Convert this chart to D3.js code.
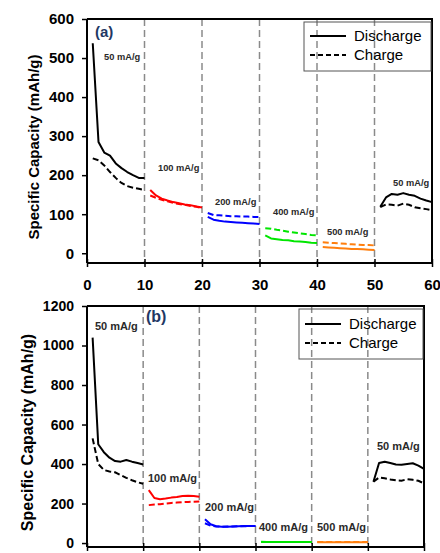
<!DOCTYPE html>
<html>
<head>
<meta charset="utf-8">
<script src="https://cdn.jsdelivr.net/npm/d3@7"></script>
<style>
  html, body { margin: 0; padding: 0; background: #fff; }
  svg { display: block; }
  text { font-family: "Liberation Sans", Arial, sans-serif; }
</style>
</head>
<body>
<svg id="chart" width="440" height="553"></svg>
<script>
// ---------- DATA ----------
const cycles = d3.range(1, 61);
const rates = ["50 mA/g", "100 mA/g", "200 mA/g", "400 mA/g", "500 mA/g", "50 mA/g"];
const segmentColors = ["#000000", "#ff0000", "#0000ff", "#00e600", "#ff7f0e", "#000000"];
const xTicks = [0, 10, 20, 30, 40, 50, 60];
const yTicksA = [0, 100, 200, 300, 400, 500, 600];
const yTicksB = [0, 200, 400, 600, 800, 1000, 1200];
const legendLabels = ["Discharge", "Charge"];

const dischargeA = [
  538, 285, 258, 250, 230, 218, 208, 200, 193, 193,
  162, 148, 140, 135, 131, 128, 125, 123, 120, 117,
  93, 86, 83, 81, 80, 79, 78, 77, 76, 75,
  46, 38, 36, 34, 33, 31, 30, 29, 27, 26,
  16, 15, 14, 13, 12, 11, 11, 10, 9, 8,
  119, 143, 152, 150, 154, 150, 147, 140, 135, 131
];
const chargeA = [
  243, 238, 225, 208, 193, 180, 172, 168, 165, 162,
  148, 142, 137, 133, 129, 126, 124, 121, 119, 116,
  103, 98, 97, 96, 95, 95, 94, 94, 93, 93,
  64, 63, 60, 58, 55, 53, 51, 49, 47, 46,
  28, 27, 26, 25, 24, 23, 22, 21, 21, 20,
  118, 125, 124, 122, 127, 124, 118, 115, 113, 110
];
const dischargeB = [
  1040, 500, 460, 432, 415, 412, 420, 412, 405, 398,
  268, 228, 222, 225, 230, 233, 238, 240, 238, 234,
  120, 95, 85, 82, 83, 84, 85, 86, 86, 86,
  6, 5, 5, 5, 5, 5, 5, 5, 5, 5,
  4, 4, 4, 4, 4, 4, 4, 4, 4, 4,
  310, 405, 412, 405, 398, 396, 400, 404, 392, 375
];
const chargeB = [
  530, 400, 370, 362, 358, 344, 330, 318, 308, 300,
  192, 195, 197, 200, 203, 205, 207, 208, 209, 210,
  100, 88, 84, 83, 84, 84, 85, 85, 86, 86,
  5, 5, 5, 5, 5, 5, 5, 5, 5, 5,
  5, 5, 5, 5, 5, 5, 5, 5, 5, 5,
  310, 332, 328, 322, 318, 316, 323, 320, 315, 302
];

// ---------- LAYOUT ----------
const svg = d3.select("#chart");
const FONT = '"Liberation Sans", Arial, sans-serif';

const panels = [
  {
    tag: "(a)", discharge: dischargeA, charge: chargeA, yTicks: yTicksA,
    left: 87, right: 432, top: 19, bottom: 263, yDomain: [-25, 600],
    tickFont: 15, titleFont: 15, titleX: 33, tagPos: [95, 37], tagFont: 15,
    rateFont: 9.3, showXLabels: true,
    ratePos: [[104, 60], [158, 171], [215, 205], [273, 215], [327, 235], [393, 186]],
    legend: { x: 304, y: 22, w: 127, h: 49, l1: 36, l2: 55 }
  },
  {
    tag: "(b)", discharge: dischargeB, charge: chargeB, yTicks: yTicksB,
    left: 87, right: 424, top: 306, bottom: 547, yDomain: [-20, 1200],
    tickFont: 14, titleFont: 16, titleX: 27, tagPos: [146, 322], tagFont: 16,
    rateFont: 11, showXLabels: false,
    ratePos: [[95, 330], [148, 482], [205, 511], [259, 531], [317, 531], [377, 450]],
    legend: { x: 299, y: 309, w: 124, h: 50, l1: 324, l2: 343 }
  }
];

panels.forEach(p => {
  const x = d3.scaleLinear().domain([0, 60]).range([p.left, p.right]);
  const y = d3.scaleLinear().domain(p.yDomain).range([p.bottom, p.top]);
  const g = svg.append("g");

  // vertical separators
  g.selectAll("line.sep").data([10, 20, 30, 40, 50]).join("line")
    .attr("x1", d => x(d)).attr("x2", d => x(d))
    .attr("y1", p.top).attr("y2", p.bottom)
    .attr("stroke", "#8a8a8a").attr("stroke-width", 1.5)
    .attr("stroke-dasharray", "7,4");

  // data segments
  const line = d3.line().x(d => x(d.c)).y(d => y(d.v));
  for (let s = 0; s < 6; s++) {
    const idx = d3.range(s * 10, s * 10 + 10);
    const dd = idx.map(i => ({ c: cycles[i], v: p.discharge[i] }));
    const cc = idx.map(i => ({ c: cycles[i], v: p.charge[i] }));
    g.append("path").attr("d", line(dd)).attr("fill", "none")
      .attr("stroke", segmentColors[s]).attr("stroke-width", 2)
      .attr("stroke-linejoin", "round");
    g.append("path").attr("d", line(cc)).attr("fill", "none")
      .attr("stroke", segmentColors[s]).attr("stroke-width", 2)
      .attr("stroke-dasharray", "6,3");
  }

  // frame top & right
  g.append("path")
    .attr("d", `M${p.left},${p.top}H${p.right}V${p.bottom}`)
    .attr("fill", "none").attr("stroke", "#000").attr("stroke-width", 2);

  // y axis
  const ya = g.append("g").attr("transform", `translate(${p.left},0)`)
    .call(d3.axisLeft(y).tickValues(p.yTicks).tickFormat(d3.format("d"))
      .tickSize(5).tickPadding(8));
  ya.select(".domain").attr("stroke-width", 2)
    .attr("d", `M0,${p.top}V${p.bottom}`);
  ya.selectAll(".tick line").attr("stroke-width", 1.5);
  ya.selectAll("text").attr("font-family", FONT).attr("font-size", p.tickFont)
    .attr("font-weight", "bold").attr("fill", "#000");

  // x axis
  const xa = g.append("g").attr("transform", `translate(0,${p.bottom})`)
    .call(d3.axisBottom(x).tickValues(xTicks).tickFormat(d3.format("d"))
      .tickSize(4).tickPadding(12));
  xa.select(".domain").attr("stroke-width", 2)
    .attr("d", `M${p.left},0H${p.right}`);
  xa.selectAll(".tick line").attr("y1", -4).attr("stroke-width", 1.5);
  if (p.showXLabels) {
    xa.selectAll("text").attr("font-family", FONT).attr("font-size", p.tickFont)
      .attr("font-weight", "bold").attr("fill", "#000");
  } else {
    xa.selectAll("text").remove();
  }

  // y title
  g.append("text")
    .attr("transform", `translate(${p.titleX},${(p.top + p.bottom) / 2 + 6}) rotate(-90)`)
    .attr("text-anchor", "middle").attr("dominant-baseline", "central")
    .attr("font-size", p.titleFont).attr("font-weight", "bold")
    .text("Specific Capacity (mAh/g)");

  // panel tag
  g.append("text").attr("x", p.tagPos[0]).attr("y", p.tagPos[1])
    .attr("font-size", p.tagFont).attr("font-weight", "bold").attr("fill", "#1f3864")
    .text(p.tag);

  // rate labels
  g.selectAll("text.rate").data(rates).join("text")
    .attr("x", (d, i) => p.ratePos[i][0]).attr("y", (d, i) => p.ratePos[i][1])
    .attr("font-size", p.rateFont).attr("font-weight", "bold").attr("fill", "#2a2a2a")
    .text(d => d);

  // legend
  const L = p.legend;
  g.append("rect").attr("x", L.x).attr("y", L.y).attr("width", L.w).attr("height", L.h)
    .attr("fill", "none").attr("stroke", "#555").attr("stroke-width", 1);
  g.append("line").attr("x1", L.x + 6).attr("x2", L.x + 42).attr("y1", L.l1).attr("y2", L.l1)
    .attr("stroke", "#000").attr("stroke-width", 2);
  g.append("line").attr("x1", L.x + 6).attr("x2", L.x + 42).attr("y1", L.l2).attr("y2", L.l2)
    .attr("stroke", "#000").attr("stroke-width", 2).attr("stroke-dasharray", "5,3");
  g.selectAll("text.leg").data(legendLabels).join("text")
    .attr("x", L.x + 50).attr("y", (d, i) => (i === 0 ? L.l1 : L.l2) + 5)
    .attr("font-size", 15).attr("fill", "#000").text(d => d);
});
</script>
</body>
</html>
